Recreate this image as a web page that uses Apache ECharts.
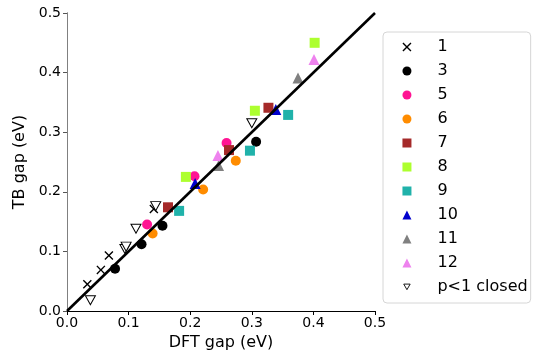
<!DOCTYPE html>
<html>
<head>
<meta charset="utf-8">
<script src="https://cdn.jsdelivr.net/npm/echarts@6/dist/echarts.min.js"></script>
<style>
  html, body { margin: 0; padding: 0; background: #fff; }
  #chart { width: 533px; height: 356px; }
</style>
</head>
<body>
<div id="chart"></div>
<script>
// [DFT gap, TB gap] per group
const g1 = [[0.033, 0.045], [0.055, 0.069], [0.068, 0.093], [0.141, 0.171]];
const g3 = [[0.078, 0.071], [0.121, 0.112], [0.155, 0.143], [0.307, 0.284]];
const g5 = [[0.130, 0.145], [0.207, 0.226], [0.259, 0.282]];
const g6 = [[0.139, 0.130], [0.221, 0.204], [0.274, 0.252]];
const g7 = [[0.164, 0.174], [0.263, 0.270], [0.327, 0.341]];
const g8 = [[0.193, 0.225], [0.305, 0.336], [0.402, 0.450]];
const g9 = [[0.182, 0.168], [0.297, 0.269], [0.359, 0.329]];
const g10 = [[0.208, 0.214], [0.339, 0.338]];
const g11 = [[0.246, 0.244], [0.375, 0.391]];
const g12 = [[0.245, 0.261], [0.401, 0.422]];
const pClosed = [[0.038, 0.018], [0.094, 0.104], [0.096, 0.108], [0.112, 0.138], [0.144, 0.176], [0.300, 0.315]];
const diagonal = [[0, 0], [0.5, 0.5]];

const CROSS = "path://M0,1.1L1.1,0L5,3.9L8.9,0L10,1.1L6.1,5L10,8.9L8.9,10L5,6.1L1.1,10L0,8.9L3.9,5Z";
const DOWN_TRI = "path://M0,0L10,0L5,8.66Z";
// same triangle with invisible zero-length segments as margin, so the legend icon draws smaller
const DOWN_TRI_LEGEND = "path://M-2,-2L-2,-2M12,11L12,11M0,0L10,0L5,8.66Z";

const groups = [
  { name: "1", data: g1, symbol: CROSS, color: "#000000", size: 9 },
  { name: "3", data: g3, symbol: "circle", color: "#000000", size: 10 },
  { name: "5", data: g5, symbol: "circle", color: "#ff1493", size: 10 },
  { name: "6", data: g6, symbol: "circle", color: "#ff8c00", size: 10 },
  { name: "7", data: g7, symbol: "rect", color: "#a52a2a", size: 10 },
  { name: "8", data: g8, symbol: "rect", color: "#adff2f", size: 10 },
  { name: "9", data: g9, symbol: "rect", color: "#20b2aa", size: 10 },
  { name: "10", data: g10, symbol: "triangle", color: "#0000cd", size: 11 },
  { name: "11", data: g11, symbol: "triangle", color: "#808080", size: 11 },
  { name: "12", data: g12, symbol: "triangle", color: "#ee82ee", size: 11 },
];

const chart = echarts.init(document.getElementById("chart"), null, { renderer: "canvas" });

const FONT = "DejaVu Sans";
const spine = (color) => ({ show: true, lineStyle: { color, width: 1 } });

const series = groups.map((g) => ({
  name: g.name,
  type: "scatter",
  data: g.data,
  symbol: g.symbol,
  symbolSize: g.size,
  itemStyle: { color: g.color, opacity: 1 },
  z: 3,
}));

series.push({
  name: "p<1 closed",
  type: "scatter",
  data: pClosed,
  symbol: DOWN_TRI,
  symbolSize: [10, 9],
  itemStyle: { color: "#ffffff", borderColor: "#000000", borderWidth: 1, opacity: 1 },
  z: 3,
});

series.push({
  name: "diag",
  type: "line",
  data: diagonal,
  symbol: "none",
  lineStyle: { color: "#000000", width: 2.6 },
  z: 5,
  silent: true,
});

const legendData = groups.map((g) => g.name);
legendData.push({
  name: "p<1 closed",
  icon: DOWN_TRI_LEGEND,
  itemStyle: { color: "#ffffff", borderColor: "#000000", borderWidth: 0.9 },
});

chart.setOption({
  animation: false,
  backgroundColor: "#ffffff",
  textStyle: { fontFamily: FONT },
  grid: { left: 67, right: 158, top: 13, bottom: 44 },
  legend: {
    data: legendData,
    orient: "vertical",
    left: 383,
    top: 32,
    padding: [7, 3, 8, 19],
    itemWidth: 9,
    itemHeight: 9,
    itemGap: 8,
    borderColor: "#d6d6d6",
    borderWidth: 1,
    borderRadius: 4,
    textStyle: { color: "#000", fontSize: 16, fontFamily: FONT, lineHeight: 16, padding: [0, 0, 0, 21] },
  },
  xAxis: [
    {
      type: "value",
      min: 0,
      max: 0.5,
      interval: 0.1,
      name: "DFT gap (eV)",
      nameLocation: "middle",
      nameGap: 24,
      nameTextStyle: { color: "#000", fontSize: 16, fontFamily: FONT },
      axisLine: spine("#000000"),
      axisTick: { show: true, length: 4, lineStyle: { color: "#000" } },
      axisLabel: { color: "#000", fontSize: 14, fontFamily: FONT, margin: 5, formatter: (v) => v.toFixed(1) },
      splitLine: { show: false },
    },
    {
      type: "value",
      position: "top",
      min: 0,
      max: 0.5,
      axisLine: spine("#000000"),
      axisTick: { show: false },
      axisLabel: { show: false },
      splitLine: { show: false },
    },
  ],
  yAxis: [
    {
      type: "value",
      min: 0,
      max: 0.5,
      interval: 0.1,
      name: "TB gap (eV)",
      nameLocation: "middle",
      nameGap: 38,
      nameTextStyle: { color: "#000", fontSize: 16, fontFamily: FONT },
      axisLine: spine("#808080"),
      axisTick: { show: true, length: 4, lineStyle: { color: "#555" } },
      axisLabel: { color: "#000", fontSize: 14, fontFamily: FONT, margin: 6, formatter: (v) => v.toFixed(1) },
      splitLine: { show: false },
    },
    {
      type: "value",
      position: "right",
      min: 0,
      max: 0.5,
      axisLine: spine("#808080"),
      axisTick: { show: false },
      axisLabel: { show: false },
      splitLine: { show: false },
    },
  ],
  series,
});
</script>
</body>
</html>
